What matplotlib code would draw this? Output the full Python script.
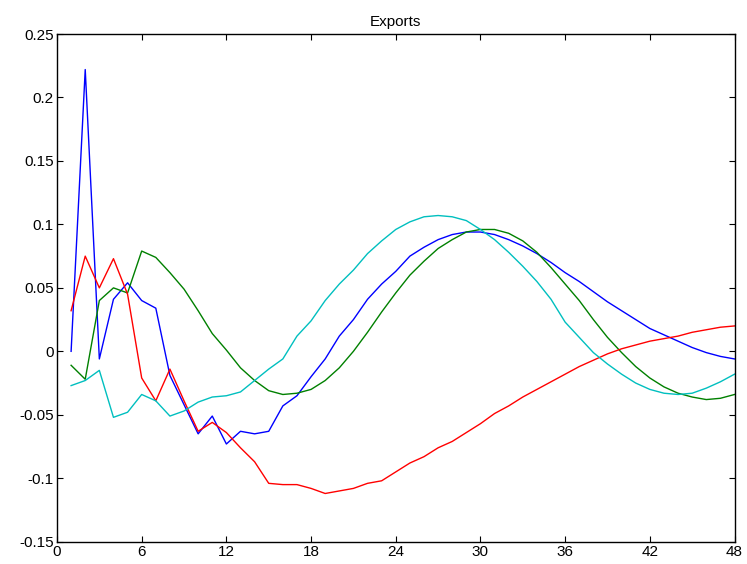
import numpy as np
import matplotlib.pyplot as plt
from matplotlib.ticker import FuncFormatter

plt.rcParams['font.family'] = ['Liberation Sans', 'DejaVu Sans']
plt.rcParams['font.size'] = 11

horizon = np.arange(1, 49)

blue = [0.000, 0.222, -0.006, 0.041, 0.054, 0.040, 0.034, -0.019, -0.042, -0.065,
        -0.051, -0.073, -0.063, -0.065, -0.063, -0.043, -0.035, -0.020, -0.006, 0.012,
        0.025, 0.041, 0.053, 0.063, 0.075, 0.082, 0.088, 0.092, 0.094, 0.094,
        0.092, 0.088, 0.083, 0.077, 0.070, 0.062, 0.055, 0.047, 0.039, 0.032,
        0.025, 0.018, 0.013, 0.008, 0.003, -0.001, -0.004, -0.006]

green = [-0.011, -0.022, 0.040, 0.050, 0.046, 0.079, 0.074, 0.062, 0.049, 0.032,
         0.014, 0.001, -0.013, -0.023, -0.031, -0.034, -0.033, -0.030, -0.023, -0.013,
         0.000, 0.015, 0.031, 0.046, 0.060, 0.071, 0.081, 0.088, 0.094, 0.096,
         0.096, 0.093, 0.087, 0.078, 0.066, 0.053, 0.040, 0.025, 0.011, -0.001,
         -0.012, -0.021, -0.028, -0.033, -0.036, -0.038, -0.037, -0.034]

red = [0.032, 0.075, 0.050, 0.073, 0.045, -0.021, -0.039, -0.014, -0.039, -0.063,
       -0.056, -0.064, -0.076, -0.087, -0.104, -0.105, -0.105, -0.108, -0.112, -0.110,
       -0.108, -0.104, -0.102, -0.095, -0.088, -0.083, -0.076, -0.071, -0.064, -0.057,
       -0.049, -0.043, -0.036, -0.030, -0.024, -0.018, -0.012, -0.007, -0.002, 0.002,
       0.005, 0.008, 0.010, 0.012, 0.015, 0.017, 0.019, 0.020]

cyan = [-0.027, -0.023, -0.015, -0.052, -0.048, -0.034, -0.039, -0.051, -0.047, -0.040,
        -0.036, -0.035, -0.032, -0.023, -0.014, -0.006, 0.012, 0.024, 0.040, 0.053,
        0.064, 0.077, 0.087, 0.096, 0.102, 0.106, 0.107, 0.106, 0.103, 0.096,
        0.088, 0.078, 0.067, 0.055, 0.041, 0.023, 0.011, -0.001, -0.010, -0.018,
        -0.025, -0.030, -0.033, -0.034, -0.033, -0.029, -0.024, -0.018]

fig = plt.figure(figsize=(7.47, 5.64), dpi=100)
ax = fig.add_axes([0.0763, 0.0395, 0.907, 0.9002])

ax.plot(horizon, blue, color=(0, 0, 1), lw=1.0)
ax.plot(horizon, green, color=(0, 0.5, 0), lw=1.0)
ax.plot(horizon, red, color=(1, 0, 0), lw=1.0)
ax.plot(horizon, cyan, color=(0, 0.75, 0.75), lw=1.0)

ax.set_xlim(0, 48)
ax.set_ylim(-0.15, 0.25)
ax.set_xticks(np.arange(0, 49, 6))
ax.set_yticks(np.arange(-0.15, 0.2501, 0.05))
ax.yaxis.set_major_formatter(FuncFormatter(lambda v, p: f"{round(v, 2):g}"))
ax.tick_params(direction='in', top=True, right=True, length=4, width=0.8, pad=2.5)
for s in ax.spines.values():
    s.set_linewidth(1.0)

ax.set_title('Exports', fontsize=11, pad=6)

fig.savefig('out.png', dpi=100)
